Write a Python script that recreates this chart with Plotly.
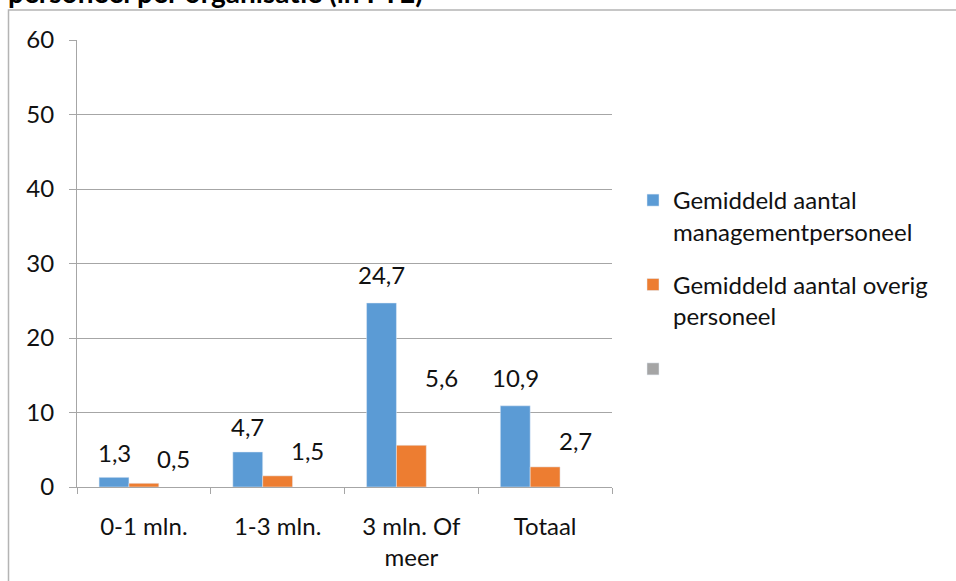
import plotly.graph_objects as go

categories = ["0-1 mln.", "1-3 mln.", "3 mln. Of<br>meer", "Totaal"]
management = [1.3, 4.7, 24.7, 10.9]
overig = [0.5, 1.5, 5.6, 2.7]
series_names = ["Gemiddeld aantal<br>managementpersoneel", "Gemiddeld aantal overig<br>personeel", " "]
title_text = "personeel per organisatie (in FTE)"
y_ticks = [0, 10, 20, 30, 40, 50, 60]

# label lift (pixels above bar top), style only
lift_mgmt = [25, 25, 28, 28]
lift_overig = [25, 25, 68, 26]

W, H = 956, 581
ML, MR, MT, MB = 77, 344, 40, 94
plot_w = W - ML - MR
plot_h = H - MT - MB
bargap = 0.33
FONT = "Lato"
FS = 24
TXT = "#111111"
AX = "#a6a6a6"

fig = go.Figure()
fig.add_bar(x=categories, y=management, name=series_names[0], marker_color="#5B9BD5",
            legendgroup="a")
fig.add_bar(x=categories, y=overig, name=series_names[1], marker_color="#ED7D31",
            legendgroup="b")
fig.add_bar(x=categories, y=[None] * len(categories), name=series_names[2],
            marker_color="#A5A5A5", legendgroup="c")

cat_w = plot_w / len(categories)
bar_w = cat_w * (1 - bargap) / 3
fmt = lambda v: f"{v:.1f}".replace(".", ",")
for i, c in enumerate(categories):
    fig.add_annotation(x=c, y=management[i], text=fmt(management[i]), showarrow=False,
                       xshift=-bar_w, yshift=lift_mgmt[i], yanchor="middle",
                       font=dict(family=FONT, size=FS, color=TXT))
    fig.add_annotation(x=c, y=overig[i], text=fmt(overig[i]), showarrow=False,
                       xshift=bar_w, yshift=lift_overig[i], yanchor="middle",
                       font=dict(family=FONT, size=FS, color=TXT))

fig.add_annotation(xref="paper", yref="paper", x=(6 - ML) / plot_w, y=(plot_h + MT - 11) / plot_h,
                   xanchor="left", yanchor="bottom", text="<b>" + title_text + "</b>",
                   showarrow=False, font=dict(family=FONT, size=28, color="#000"))

fig.add_shape(type="rect", xref="paper", yref="paper",
              x0=(8.5 - ML) / plot_w, x1=(W + 5 - ML) / plot_w,
              y0=-0.5, y1=(plot_h + MT - 10) / plot_h,
              line=dict(color="#b4b4b4", width=1.5), fillcolor="rgba(0,0,0,0)", layer="below")

fig.update_layout(
    width=W, height=H, margin=dict(l=ML, r=MR, t=MT, b=MB, autoexpand=False),
    paper_bgcolor="white", plot_bgcolor="white",
    barmode="group", bargap=bargap, bargroupgap=0,
    font=dict(family=FONT, size=FS, color=TXT),
    showlegend=True,
    legend=dict(x=(633 - ML) / plot_w, y=(487 - 178) / plot_h, xanchor="left", yanchor="top",
                traceorder="grouped", tracegroupgap=19, valign="top",
                font=dict(family=FONT, size=FS, color=TXT)),
)
fig.update_xaxes(showline=True, linecolor=AX, linewidth=1, ticks="outside", tickson="boundaries",
                 ticklen=6, tickcolor=AX, showgrid=False, ticklabelstandoff=18, automargin=False)
fig.update_yaxes(range=[0, 60], tickvals=y_ticks, showline=True, linecolor=AX, linewidth=1,
                 ticks="outside", ticklen=7, tickcolor=AX, gridcolor=AX, gridwidth=1,
                 zeroline=False, ticklabelstandoff=10, automargin=False)

fig.write_html("out.html", post_script="document.body.style.margin='0';",
               config={"displayModeBar": False})
